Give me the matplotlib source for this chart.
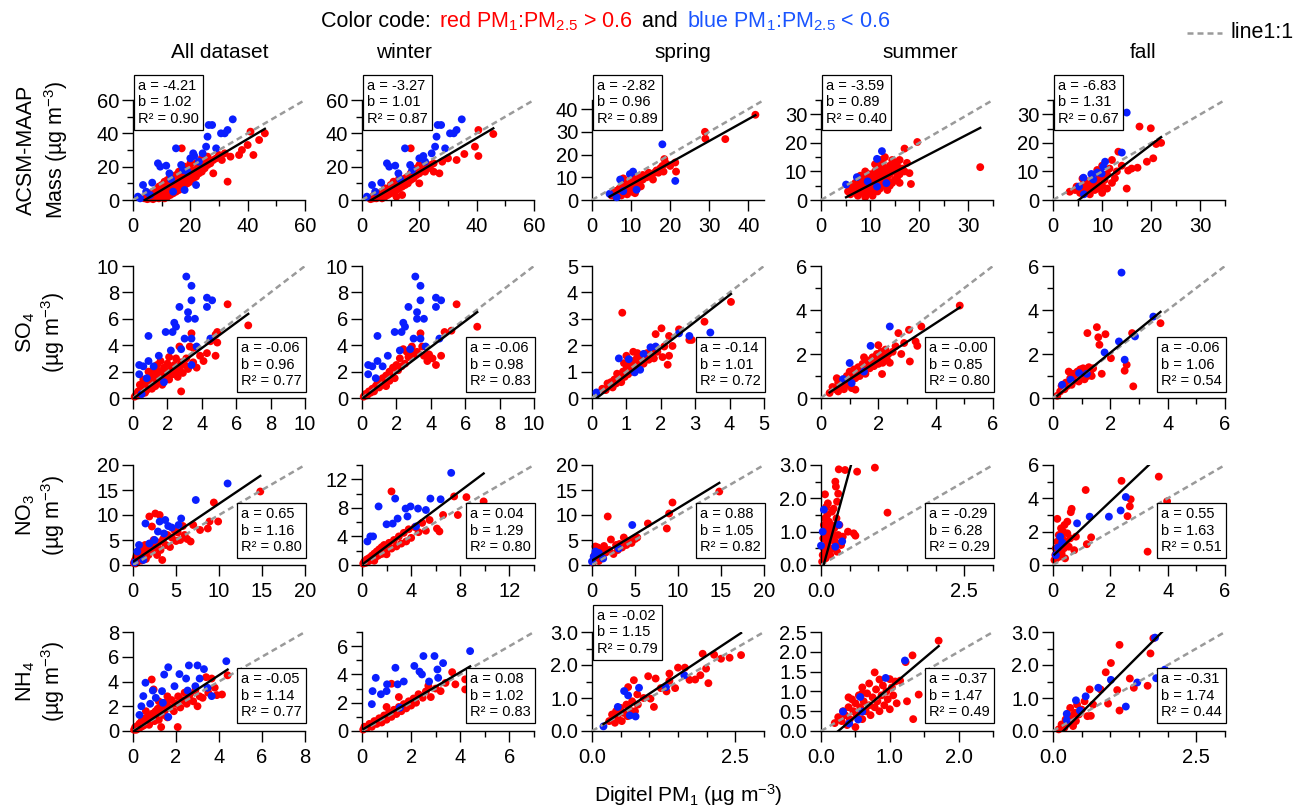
import matplotlib
matplotlib.use('Agg')
import matplotlib.pyplot as plt
import numpy as np

plt.rcParams['font.family'] = ['Liberation Sans', 'DejaVu Sans']
plt.rcParams['mathtext.fontset'] = 'custom'
plt.rcParams['mathtext.rm'] = 'Liberation Sans'
plt.rcParams['mathtext.it'] = 'Liberation Sans:italic'
plt.rcParams['mathtext.bf'] = 'Liberation Sans:bold'

# ---------------- data ----------------
seasons = ['All dataset', 'winter', 'spring', 'summer', 'fall']
species_line1 = ['ACSM-MAAP', 'SO$_4$', 'NO$_3$', 'NH$_4$']
species_line2 = ['Mass (µg m$^{-3}$)', '(µg m$^{-3}$)', '(µg m$^{-3}$)', '(µg m$^{-3}$)']

# fit parameters (a, b, R2) per row (species) and column (season)
fit_a = [[-4.21, -3.27, -2.82, -3.59, -6.83],
         [-0.06, -0.06, -0.14, -0.0, -0.06],
         [0.65, 0.04, 0.88, -0.29, 0.55],
         [-0.05, 0.08, -0.02, -0.37, -0.31]]
fit_b = [[1.02, 1.01, 0.96, 0.89, 1.31],
         [0.96, 0.98, 1.01, 0.85, 1.06],
         [1.16, 1.29, 1.05, 6.28, 1.63],
         [1.14, 1.02, 1.15, 1.47, 1.74]]
fit_r2 = [[0.90, 0.87, 0.89, 0.40, 0.67],
          [0.77, 0.83, 0.72, 0.80, 0.54],
          [0.80, 0.80, 0.82, 0.29, 0.51],
          [0.77, 0.83, 0.79, 0.49, 0.44]]

# axis limits per panel
axis_lim = [[60, 60, 44, 35, 35],
            [10, 10, 5, 6, 6],
            [20, 14, 20, 3, 6],
            [8, 7, 3, 2.5, 3]]

# ---- ACSM-MAAP mass ----
mass_all_red = [(4,1),(5,0.5),(5,3),(6,1),(6,4),(7,2),(7,5),(7,0.5),(8,1.5),(8,3.5),(8,6),(9,1),(9,3),(9,5),(9,8),(10,2),(10,4),(10,6),(10,9),(11,1),(11,3),(11,5),(11,7),(11,11),(12,2),(12,4),(12,6),(12,9),(12,12),(13,3),(13,5),(13,8),(13,11),(13,14),(14,4),(14,7),(14,10),(14,13),(15,5),(15,8),(15,11),(15,15),(16,6),(16,9),(16,12),(16,17),(17,7),(17,10),(17,14),(17,31),(18,9),(18,12),(18,16),(18,20),(19,10),(19,14),(19,18),(20,11),(20,15),(20,19),(20,22),(21,13),(21,17),(22,14),(22,18),(22,22),(23,16),(23,20),(24,17),(24,21),(24,25),(25,19),(25,23),(26,21),(26,26),(27,22),(28,16),(28,24),(29,25),(30,27),(31,24),(32,28),(33,11),(34,26),(37,27),(38,30),(40,33),(41,41),(42,27),(44,36),(46,40)]
mass_all_blue = [(1.7,2),(2.5,1),(3.5,9),(4.6,5),(6,3),(6.7,10.4),(8.7,22),(9.5,20),(11.6,20.6),(12.7,16),(13.3,12.4),(15,31),(16.8,21),(17.5,18),(19,17),(20,25),(21,28),(21.4,26.4),(22,9),(23,23),(24.3,28),(25.5,32),(26,38),(26.4,45),(27.6,45),(29,31),(30.7,40),(32,40),(33,42),(34.8,48.4),(18,6),(14,5)]
mass_winter_red = [(3,0.5),(4,1),(4,2.5),(5,1),(5,3),(6,2),(6,4),(7,1),(7,3),(7,5),(8,2),(8,5),(8,7),(9,3),(9,6),(10,4),(10,7),(10,9),(11,5),(11,8),(11,11),(12,6),(12,10),(13,7),(13,11),(13,13),(14,8),(14,12),(15,9),(15,13),(16,10),(16,14),(17,12),(17,16),(17,31),(18,13),(18,17),(19,15),(19,19),(20,16),(20,21),(21,18),(22,17),(22,20),(23,19),(24,21),(25,22),(25,17),(27,16),(28,23),(30,25),(33,24),(35.7,27.6),(39.4,32),(40.6,26.4),(40.6,42),(45.8,39.6),(14,3),(12,2),(20,10)]
mass_winter_blue = [(1.7,2),(3.5,9),(4.6,5),(6.7,10.4),(8.7,22),(9.5,20),(11.6,20.6),(12.7,16),(13.3,12.4),(15,31),(16.8,21),(20,25),(21.4,26.4),(24.3,28),(25.5,32),(26,38),(26.4,45),(27.6,45),(29,31),(30.7,40),(32,40),(33,42),(34.8,48.4),(17.5,18),(22,23)]
mass_spring_red = [(5,2),(5.5,3),(6,1.5),(6,4),(6.5,2.5),(7,3.5),(7,5),(7.5,2),(8,4),(8,6),(8.5,3),(9,5),(9,7),(9.5,4),(10,6),(10,8),(10.5,3.5),(11,7),(11,9),(11.5,5),(12,8),(12,10),(12.5,6),(13,9),(13,11),(13.5,10.2),(14,10),(14.5,12),(15,11),(15.6,9),(16,12),(16.5,13),(17,12),(17.5,14),(18,15),(18.3,12.5),(18.5,18),(19,16),(20,15),(21.3,16.5),(21.5,12.5),(28.9,30),(29,27),(34.1,26.8),(41.8,37.5),(9,2.5),(11,3),(8,9.5),(10,10.5)]
mass_spring_blue = [(4.5,2.7),(6.3,1.2),(7.2,9),(8,3.9),(9.7,11.4),(10.5,12.5),(11.4,4.5),(18,24.5),(21.3,8.4)]
mass_summer_red = [(5.5,3),(6,4),(6,2),(6.5,5),(7,3),(7,6),(7.5,4),(7.5,1.5),(8,5),(8,7),(8,2.5),(8.5,3.5),(8.5,6),(9,4),(9,8),(9,1),(9.5,5),(9.5,7),(9.5,2.5),(10,3),(10,6),(10,9),(10.5,4),(10.5,8),(10.5,1.5),(11,5),(11,7),(11,10),(11.5,3),(11.5,6),(11.5,9),(12,4),(12,7.5),(12,11),(12.5,5),(12.5,9),(12.5,13),(13,6),(13,8),(13,11),(13.5,3.5),(13.5,7),(13.5,10),(14,5),(14,9),(14,12),(14.5,6),(14.5,11),(14.5,14),(15,7),(15,10),(15,13),(15.5,8),(15.5,12),(16,6),(16,9),(16,14),(16.5,11),(17,10),(17,18),(17.5,13),(18,9.4),(18.3,5.6),(19.6,20.3),(32.4,11.5),(9,10),(8,8.5),(11,12.5),(12,14),(13,15)]
mass_summer_blue = [(5.1,5.4),(7.3,8),(11.4,14.4),(12.4,17.1),(11.4,4.7),(13.3,5.9),(9.5,6.5)]
mass_fall_red = [(3.4,2.9),(4.5,3.5),(4.8,4.7),(5.5,2.5),(6,5),(6.5,3),(7,4),(7,6.5),(7.5,2),(8,5),(8,7.5),(8.5,3.5),(9,6),(9,4),(9.5,8),(10,5),(10,2.5),(10.5,7),(11,9),(11,4),(11.5,11),(12,6),(12.6,7.6),(13,10),(13.3,16.9),(14,12),(15,4),(15.3,10.3),(16,11),(17.2,11.3),(17.6,25.7),(19.1,13.4),(19.9,25.1),(20.4,14.6),(21,19.6),(22,20),(6,7.5),(9,10.5),(12,14),(10,12)]
mass_fall_blue = [(5.3,4.7),(6.2,7.8),(6.3,2),(7.8,9.1),(8.2,7.2),(9,9.6),(9.9,9.3),(10.2,11.7),(10.6,13.4),(14,16.6),(15,30.6)]

# ---- SO4 ----
so4_all_red = [(0.1,0.1),(0.2,0.3),(0.3,0.2),(0.3,0.5),(0.4,0.4),(0.5,0.3),(0.5,0.7),(0.6,0.5),(0.7,0.9),(0.7,0.4),(0.8,0.6),(0.8,1.2),(0.9,0.8),(1.0,1.0),(1.0,1.5),(1.1,0.7),(1.1,1.8),(1.2,1.1),(1.2,2.2),(1.3,1.4),(1.3,0.9),(1.4,1.7),(1.4,2.5),(1.5,1.2),(1.5,2.0),(1.6,1.5),(1.6,2.8),(1.7,1.9),(1.7,1.0),(1.8,2.3),(1.8,1.4),(1.9,2.0),(2.0,1.7),(2.0,2.6),(2.1,1.4),(2.1,3.1),(2.2,2.2),(2.3,1.8),(2.4,2.5),(2.5,2.0),(2.5,3.0),(2.6,1.6),(2.7,2.3),(2.7,3.9),(2.8,2.7),(2.8,0.5),(2.9,1.9),(3.0,2.5),(3.1,3.0),(3.2,2.2),(3.3,3.9),(3.4,4.9),(3.5,3.8),(3.5,2.7),(3.7,2.3),(3.9,3.2),(4.1,2.8),(4.3,3.4),(4.5,4.3),(4.8,3.2),(4.8,4.8),(4.9,4.2),(4.9,5.0),(5.5,7.1),(6.7,5.5),(0.6,1.4),(0.9,2.0),(0.4,1.0)]
so4_all_blue = [(3.1,9.2),(3.4,8.5),(3.4,7.4),(3.2,6.5),(3.2,6.0),(3.6,6.0),(2.7,6.9),(4.3,6.9),(4.3,7.6),(4.6,7.4),(0.9,4.7),(1.9,5.0),(2.3,5.0),(2.5,5.4),(3.0,4.5),(3.4,4.5),(2.4,5.7),(0.36,2.5),(0.6,2.4),(0.36,1.8),(0.8,1.5),(0.9,2.8),(1.5,3.2),(2.2,3.6),(2.8,3.7),(3.4,2.5),(3.7,3.9),(4.5,4.5),(1.2,2.4),(0.5,0.3),(1.8,1.2)]
so4_winter_red = [(0.1,0.1),(0.2,0.3),(0.3,0.2),(0.4,0.5),(0.5,0.4),(0.6,0.7),(0.7,0.5),(0.8,0.9),(0.9,1.1),(1.0,0.8),(1.0,1.3),(1.1,1.0),(1.2,1.5),(1.3,1.2),(1.4,1.7),(1.4,0.9),(1.5,1.4),(1.6,2.0),(1.7,1.6),(1.8,2.3),(1.9,1.5),(2.0,2.5),(2.1,2.1),(2.2,3.0),(2.3,2.4),(2.5,2.6),(2.6,3.5),(2.7,3.1),(2.9,3.9),(3.0,3.3),(3.2,3.5),(3.4,4.9),(3.5,3.9),(3.6,3.2),(3.8,2.8),(3.9,3.3),(4.1,3.0),(4.3,2.5),(4.6,3.2),(4.8,5.0),(5.2,5.1),(5.5,7.1),(6.7,5.4),(1.1,1.3),(2.4,3.7),(1.6,1.3)]
so4_winter_blue = [(3.1,9.2),(3.4,8.5),(3.4,7.4),(3.2,6.5),(3.2,6.0),(3.6,6.0),(2.7,6.9),(4.3,6.9),(4.3,7.6),(4.6,7.4),(0.9,4.7),(1.9,5.0),(2.3,5.0),(2.5,5.4),(3.0,4.5),(3.4,4.5),(2.4,5.7),(0.36,2.5),(0.6,2.4),(0.36,1.8),(0.8,1.5),(0.9,2.8),(1.5,3.2),(2.2,3.6),(2.8,3.7),(3.7,3.9),(4.5,4.5),(1.2,2.4)]
so4_spring_red = [(0.3,0.35),(0.4,0.3),(0.45,0.55),(0.5,0.45),(0.55,0.6),(0.6,0.4),(0.65,0.7),(0.7,0.55),(0.73,0.92),(0.8,0.75),(0.85,0.6),(0.88,3.23),(0.9,1.0),(0.93,1.32),(0.95,0.8),(1.0,1.1),(1.05,0.9),(1.1,1.25),(1.15,1.0),(1.2,1.4),(1.25,1.15),(1.3,1.5),(1.32,1.7),(1.35,1.25),(1.4,1.4),(1.45,1.6),(1.5,1.3),(1.55,1.55),(1.6,1.7),(1.65,1.45),(1.7,1.6),(1.75,1.8),(1.8,1.5),(1.85,2.42),(1.9,1.75),(2.02,2.64),(2.05,1.55),(2.1,1.95),(2.2,1.26),(2.24,1.6),(2.24,2.35),(2.34,1.97),(2.53,2.6),(2.83,2.2),(2.9,2.2),(3.27,2.89),(4.04,3.64),(1.2,1.75),(1.0,1.6)]
so4_spring_blue = [(0.13,0.21),(0.78,1.5),(1.07,1.47),(1.24,0.97),(1.4,1.07),(1.5,1.67),(1.7,1.92),(1.85,1.95),(2.53,2.45),(2.83,2.35),(3.44,2.48)]
so4_summer_red = [(0.3,0.23),(0.4,0.5),(0.5,0.4),(0.6,0.7),(0.6,0.3),(0.7,0.55),(0.8,0.8),(0.8,0.4),(0.9,1.0),(0.9,0.6),(1.0,0.8),(1.0,1.2),(1.07,0.45),(1.1,1.0),(1.15,1.3),(1.2,0.38),(1.2,0.9),(1.25,1.15),(1.3,1.4),(1.35,1.0),(1.4,1.2),(1.45,1.55),(1.5,1.3),(1.55,1.1),(1.6,1.5),(1.65,1.7),(1.7,1.35),(1.75,1.6),(1.8,1.85),(1.85,1.45),(1.9,1.7),(1.95,2.0),(2.0,1.55),(2.05,1.8),(2.1,2.1),(2.13,1.09),(2.15,1.6),(2.2,1.9),(2.25,2.2),(2.3,1.75),(2.35,2.0),(2.4,1.6),(2.5,2.1),(2.6,2.35),(2.7,2.95),(2.8,2.0),(2.9,2.5),(3.07,3.1),(3.1,1.66),(3.3,2.57),(3.36,2.37),(3.5,3.25),(4.84,4.2),(0.55,0.9),(1.5,1.85),(2.0,2.4)]
so4_summer_blue = [(0.77,0.86),(1.0,1.59),(1.07,0.68),(1.5,1.2),(1.73,2.37),(2.4,3.25)]
so4_fall_red = [(0.15,0.1),(0.25,0.3),(0.3,0.55),(0.4,0.4),(0.45,0.7),(0.5,0.55),(0.6,0.9),(0.65,0.6),(0.7,1.1),(0.75,0.8),(0.8,1.0),(0.85,1.2),(0.9,0.75),(0.95,1.3),(1.0,1.05),(1.05,1.35),(1.1,0.85),(1.15,1.3),(1.2,1.0),(1.2,2.95),(1.25,1.4),(1.3,1.2),(1.35,1.0),(1.4,1.35),(1.53,3.22),(1.58,2.76),(1.62,2.42),(1.83,2.9),(2.02,1.81),(2.5,1.24),(2.57,1.51),(2.76,2.95),(2.8,0.53),(3.75,3.4),(0.55,1.2),(1.7,1.1)]
so4_fall_blue = [(0.32,0.6),(0.62,0.83),(0.91,1.13),(1.18,1.1),(1.8,2.07),(2.3,2.57),(2.39,5.7),(2.5,1.74),(2.86,2.8),(3.5,3.7)]

# ---- NO3 ----
no3_all_red = [(0.1,0.4),(0.2,0.8),(0.3,1.2),(0.3,0.3),(0.4,1.8),(0.5,0.6),(0.5,2.5),(0.6,1.0),(0.7,3.0),(0.8,1.5),(0.9,2.2),(1.0,0.9),(1.0,3.5),(1.2,1.6),(1.3,2.6),(1.4,4.0),(1.5,1.2),(1.6,3.0),(1.8,2.0),(1.9,9.7),(2.0,4.2),(2.2,7.7),(2.2,2.8),(2.4,5.0),(2.6,10.3),(2.6,3.5),(2.8,2.0),(3.0,4.5),(3.1,10.0),(3.2,3.0),(3.4,1.0),(3.5,5.2),(3.8,4.0),(4.0,6.0),(4.3,3.6),(4.5,5.5),(4.8,7.0),(5.0,4.8),(5.2,6.5),(5.5,5.0),(5.8,7.8),(6.0,6.0),(6.3,5.2),(6.7,4.7),(7.0,8.0),(7.8,7.0),(8.7,7.3),(8.9,8.7),(9.4,12.5),(9.9,8.7),(14.8,14.7),(1.1,2.0),(0.7,1.8),(0.4,0.9)]
no3_all_blue = [(0.5,2.7),(0.7,4.0),(1.2,1.0),(1.45,8.3),(1.9,4.3),(2.9,6.7),(3.1,8.7),(3.6,6.3),(3.75,9.0),(4.1,7.8),(4.5,7.5),(5.3,8.0),(5.6,9.3),(7.3,13.0),(11.0,16.3),(2.5,5.0),(0.2,0.5)]
no3_winter_red = [(0.1,0.2),(0.2,0.5),(0.3,0.3),(0.4,0.8),(0.5,0.5),(0.6,1.0),(0.7,0.7),(0.8,1.3),(0.9,0.9),(1.0,1.6),(1.1,1.1),(1.2,1.9),(1.3,1.3),(1.4,2.2),(1.5,1.5),(1.6,2.5),(1.7,1.6),(1.8,2.8),(2.0,2.0),(2.2,3.1),(2.4,10.3),(2.4,2.3),(2.6,3.5),(2.8,2.6),(3.0,4.0),(3.2,3.0),(3.4,4.5),(3.6,3.3),(3.8,5.0),(4.0,3.8),(4.3,5.3),(4.6,4.6),(4.9,5.9),(5.2,4.8),(5.5,6.3),(6.1,5.1),(6.3,4.7),(6.6,7.0),(7.5,9.6),(7.8,7.0),(8.5,9.5),(9.9,8.9),(1.0,0.6),(2.0,1.5)]
no3_winter_blue = [(0.44,3.3),(0.68,4.0),(0.9,4.0),(1.35,8.2),(2.0,5.7),(2.5,5.8),(2.7,9.3),(2.9,6.5),(3.55,7.9),(3.7,6.8),(3.95,8.2),(4.4,5.4),(4.56,7.9),(5.2,7.7),(5.57,9.3),(6.4,9.2),(7.26,12.9)]
no3_spring_red = [(0.1,0.5),(0.2,1.0),(0.3,2.0),(0.4,3.7),(0.5,1.5),(0.6,3.0),(0.8,0.8),(1.0,2.2),(1.2,1.5),(1.4,3.8),(1.6,2.5),(1.83,9.7),(2.0,3.0),(2.2,5.1),(2.5,2.2),(2.8,4.0),(3.0,3.0),(3.2,4.2),(3.5,3.5),(3.7,5.5),(4.0,4.0),(4.3,4.8),(4.6,4.4),(5.0,5.2),(5.26,5.5),(6.5,8.3),(8.7,7.3),(8.97,10.3),(9.36,12.5),(14.8,14.7),(0.7,3.5),(1.1,3.2)]
no3_spring_blue = [(0.0,0.7),(0.2,1.7),(0.4,2.7),(1.3,1.3),(3.1,3.3),(4.68,8.0),(0.8,2.4)]
no3_summer_red = [(0.02,0.1),(0.03,0.3),(0.05,0.5),(0.04,0.8),(0.06,1.0),(0.05,1.2),(0.07,1.4),(0.08,0.2),(0.09,0.6),(0.1,0.9),(0.1,1.1),(0.11,1.5),(0.12,0.4),(0.13,0.7),(0.14,1.3),(0.15,1.0),(0.16,0.3),(0.17,0.8),(0.18,1.2),(0.19,1.6),(0.2,0.5),(0.21,0.9),(0.22,1.69),(0.23,1.1),(0.25,2.5),(0.25,0.7),(0.27,1.4),(0.28,0.4),(0.3,2.14),(0.3,0.9),(0.31,2.87),(0.32,1.2),(0.35,0.6),(0.38,0.85),(0.42,2.85),(0.47,1.0),(0.57,0.95),(0.6,0.88),(0.63,2.8),(0.94,2.92),(1.16,1.57),(0.07,2.12),(0.09,1.74),(0.26,2.35),(0.28,1.9),(0.12,1.85)]
no3_summer_blue = [(0.0,0.58),(0.05,1.66),(0.25,0.55),(0.31,1.21),(0.37,0.71),(0.03,1.0)]
no3_fall_red = [(0.05,0.3),(0.08,0.6),(0.1,1.0),(0.12,0.4),(0.15,2.77),(0.15,1.4),(0.18,0.8),(0.2,1.8),(0.22,0.5),(0.25,1.2),(0.28,2.2),(0.3,0.7),(0.32,1.6),(0.35,2.0),(0.38,1.0),(0.4,2.4),(0.42,0.4),(0.45,1.4),(0.5,1.9),(0.55,1.1),(0.6,1.6),(0.62,3.17),(0.65,3.37),(0.74,0.89),(0.8,1.7),(1.14,4.5),(1.18,1.25),(1.33,1.66),(2.39,5.05),(2.6,2.93),(2.68,3.52),(2.71,3.94),(3.3,0.8),(3.69,5.3),(3.98,3.82),(0.3,1.3),(0.5,2.6)]
no3_fall_blue = [(0.1,0.59),(0.18,1.05),(0.25,1.7),(0.32,1.35),(0.84,2.5),(1.28,2.9),(1.95,2.9),(2.36,3.27),(2.54,4.08)]

# ---- NH4 ----
nh4_all_red = [(0.05,0.1),(0.1,0.3),(0.15,0.1),(0.2,0.4),(0.25,0.2),(0.3,0.6),(0.35,0.3),(0.4,0.8),(0.45,0.4),(0.5,1.0),(0.55,0.5),(0.6,0.9),(0.65,0.7),(0.7,1.2),(0.75,0.5),(0.8,1.0),(0.87,4.16),(0.9,1.4),(0.96,3.36),(1.0,0.8),(1.05,1.6),(1.1,1.2),(1.15,1.8),(1.2,0.9),(1.25,1.5),(1.31,0.32),(1.35,2.0),(1.4,1.3),(1.5,1.7),(1.55,2.3),(1.6,1.1),(1.7,1.9),(1.8,2.5),(1.9,1.6),(2.0,2.2),(2.08,0.32),(2.1,2.8),(2.2,1.9),(2.3,2.5),(2.4,3.1),(2.5,2.2),(2.6,2.7),(2.66,3.0),(2.8,2.4),(2.9,3.3),(3.0,2.0),(3.1,2.8),(3.24,2.68),(3.4,4.35),(3.5,3.1),(3.66,4.24),(3.8,3.5),(3.9,2.9),(4.14,2.95),(4.4,4.5),(1.2,2.4),(0.6,1.6),(1.6,2.8)]
nh4_all_blue = [(0.39,2.0),(0.48,2.82),(0.58,3.9),(0.92,3.27),(1.06,2.68),(1.35,3.22),(1.39,2.28),(1.45,4.56),(1.64,5.15),(1.64,1.13),(1.93,3.62),(2.16,4.6),(2.47,4.24),(2.54,3.27),(2.6,5.3),(2.9,3.62),(3.0,5.3),(3.1,4.24),(3.3,5.0),(3.47,3.49),(3.66,2.82),(4.34,5.64),(0.3,1.3),(0.8,2.2)]
nh4_winter_red = [(0.05,0.1),(0.1,0.3),(0.2,0.2),(0.3,0.5),(0.4,0.3),(0.5,0.7),(0.6,0.5),(0.7,0.9),(0.8,0.6),(0.9,1.1),(1.0,0.8),(1.1,1.3),(1.2,3.34),(1.2,1.0),(1.3,1.5),(1.4,1.2),(1.5,1.7),(1.6,1.4),(1.7,1.9),(1.8,1.6),(1.9,2.1),(2.0,1.8),(2.1,2.3),(2.2,2.0),(2.3,2.6),(2.47,2.35),(2.6,2.8),(2.8,2.4),(3.0,3.0),(3.2,2.82),(3.4,3.4),(3.67,4.16),(3.8,3.3),(4.2,3.65),(4.2,2.94),(1.5,2.4),(1.0,1.7),(2.7,3.2)]
nh4_winter_blue = [(0.4,1.9),(0.43,2.82),(0.56,3.76),(0.77,2.6),(1.0,2.82),(1.02,3.3),(1.36,4.47),(1.45,3.3),(1.54,1.65),(1.7,3.5),(2.13,4.6),(2.34,4.2),(2.44,4.0),(2.5,5.3),(2.73,3.5),(2.95,5.3),(3.07,4.35),(3.1,3.76),(3.3,4.8),(4.4,5.65)]
nh4_spring_red = [(0.3,0.3),(0.35,0.5),(0.4,0.25),(0.42,0.6),(0.45,0.4),(0.5,0.7),(0.52,0.3),(0.55,0.55),(0.6,0.8),(0.62,0.45),(0.63,1.33),(0.65,0.65),(0.7,0.9),(0.73,1.54),(0.75,0.6),(0.79,1.11),(0.8,0.8),(0.9,1.0),(0.98,1.66),(1.02,0.98),(1.08,0.73),(1.11,1.59),(1.2,1.3),(1.3,1.2),(1.35,1.52),(1.35,1.74),(1.45,1.3),(1.5,1.92),(1.62,1.92),(1.7,1.55),(1.8,1.56),(1.89,1.69),(1.93,2.34),(1.99,1.89),(2.03,1.45),(2.13,2.31),(2.25,2.19),(2.4,2.22),(2.6,2.3)]
nh4_spring_blue = [(0.2,0.14),(0.45,0.73),(0.56,1.21),(0.63,1.08),(0.66,0.47),(0.76,0.44),(0.82,1.31),(1.29,1.33),(1.61,1.69)]
nh4_summer_red = [(0.2,0.2),(0.25,0.35),(0.3,0.25),(0.32,0.5),(0.35,0.4),(0.38,0.15),(0.4,0.6),(0.42,0.3),(0.45,0.8),(0.47,0.5),(0.5,0.7),(0.5,0.1),(0.52,0.4),(0.55,0.9),(0.57,0.6),(0.6,0.3),(0.6,1.1),(0.62,0.75),(0.65,0.5),(0.67,0.95),(0.7,0.65),(0.7,1.2),(0.72,0.4),(0.75,0.85),(0.78,1.48),(0.78,0.6),(0.8,1.05),(0.82,0.75),(0.85,1.3),(0.85,0.5),(0.88,0.9),(0.9,1.15),(0.92,0.65),(0.95,1.0),(0.97,0.8),(1.0,1.31),(1.0,0.55),(1.03,1.1),(1.05,0.9),(1.08,1.25),(1.1,0.7),(1.15,1.27),(1.23,1.74),(1.25,0.75),(1.33,1.91),(1.34,0.3),(1.42,0.92),(1.71,2.28),(0.4,0.85),(0.6,0.95)]
nh4_summer_blue = [(0.32,0.49),(0.41,0.19),(0.54,0.29),(0.57,0.86),(0.6,0.49),(0.94,1.34),(1.22,1.78)]
nh4_fall_red = [(0.1,0.05),(0.15,0.2),(0.2,0.1),(0.22,0.35),(0.25,0.5),(0.28,0.25),(0.3,0.7),(0.33,0.4),(0.35,0.15),(0.38,0.55),(0.4,0.3),(0.42,0.8),(0.45,0.5),(0.5,0.65),(0.55,0.9),(0.6,0.45),(0.64,1.26),(0.66,0.46),(0.7,0.8),(0.83,1.26),(0.92,1.78),(0.96,0.83),(1.01,2.06),(1.12,1.24),(1.16,2.61),(1.16,0.62),(1.34,1.59),(1.41,1.31),(1.65,1.37),(1.7,2.35),(1.75,2.81),(1.92,0.41),(2.17,1.68)]
nh4_fall_blue = [(0.24,0.33),(0.24,0.52),(0.4,0.93),(0.47,0.62),(0.57,1.05),(0.79,1.31),(1.01,1.55),(1.27,0.74),(1.47,1.47),(1.8,1.6),(1.78,2.83),(1.95,1.86)]

red_sets = [[mass_all_red, mass_winter_red, mass_spring_red, mass_summer_red, mass_fall_red],
            [so4_all_red, so4_winter_red, so4_spring_red, so4_summer_red, so4_fall_red],
            [no3_all_red, no3_winter_red, no3_spring_red, no3_summer_red, no3_fall_red],
            [nh4_all_red, nh4_winter_red, nh4_spring_red, nh4_summer_red, nh4_fall_red]]
blue_sets = [[mass_all_blue, mass_winter_blue, mass_spring_blue, mass_summer_blue, mass_fall_blue],
             [so4_all_blue, so4_winter_blue, so4_spring_blue, so4_summer_blue, so4_fall_blue],
             [no3_all_blue, no3_winter_blue, no3_spring_blue, no3_summer_blue, no3_fall_blue],
             [nh4_all_blue, nh4_winter_blue, nh4_spring_blue, nh4_summer_blue, nh4_fall_blue]]

# ---------------- layout / style ----------------
W, H = 1303, 809
RED = '#ff0000'
BLUE = '#0a1eff'
TITLE_BLUE = '#1a55ff'
GRAY = '#9a9a9a'

col_left = [133, 362, 592, 821, 1053]
col_w = 172
row_top = [100, 266, 465, 632]
row_bot = [200, 398, 565, 731]
col_title_x = [220, 404, 683, 920, 1143]
ylab_y = [150, 332, 515, 681]

# tick spec: (x major step or list, x minor step, y major step, y minor step, fmt)
tick_spec = [
    [(20, 10, 20, 10, '%d'), (20, 10, 20, 10, '%d'), (10, None, 10, None, '%d'),
     (10, 5, 10, 5, '%d'), (10, 5, 10, 5, '%d')],
    [(2, None, 2, None, '%d'), (2, None, 2, None, '%d'), (1, None, 1, None, '%d'),
     (2, 1, 2, 1, '%d'), (2, 1, 2, 1, '%d')],
    [(5, None, 5, None, '%d'), (4, 2, 4, 2, '%d'), (5, None, 5, None, '%d'),
     ([0, 2.5], 0.5, 1, 0.5, '%.1f'), (2, 1, 2, 1, '%d')],
    [(2, None, 2, None, '%d'), (2, 1, 2, 1, '%d'), ([0, 2.5], 0.5, 1, 0.5, '%.1f'),
     (1, 0.5, 0.5, None, '%.1f'), ([0, 2.5], 0.5, 1, 0.5, '%.1f')],
]

TICK_FS = 14.5
TITLE_FS = 15
YLAB_FS = 15.5
BOX_FS = 10.5


def steps(lim, step):
    return np.arange(0, lim + 1e-9, step)


def fig_xy(px, py):
    return px / W, 1 - py / H


fig = plt.figure(figsize=(W / 100, H / 100), dpi=100)

for r in range(4):
    for c in range(5):
        l = col_left[c]
        ax = fig.add_axes([l / W, 1 - row_bot[r] / H, col_w / W, (row_bot[r] - row_top[r]) / H])
        lim = axis_lim[r][c]
        ax.set_xlim(0, lim)
        ax.set_ylim(0, lim)
        for s in ['top', 'right']:
            ax.spines[s].set_visible(False)
        for s in ['left', 'bottom']:
            ax.spines[s].set_linewidth(1.0)
        xmaj, xmin, ymaj, ymin, fmt = tick_spec[r][c]
        xt = xmaj if isinstance(xmaj, list) else steps(lim, xmaj)
        ax.set_xticks(xt)
        ax.set_xticklabels([fmt % v for v in xt])
        if xmin:
            ax.set_xticks([v for v in steps(lim, xmin) if min(abs(v - t) for t in xt) > 1e-6], minor=True)
        yt = steps(lim, ymaj)
        ax.set_yticks(yt)
        ax.set_yticklabels([fmt % v for v in yt])
        if ymin:
            ax.set_yticks([v for v in steps(lim, ymin) if min(abs(v - t) for t in yt) > 1e-6], minor=True)
        ax.tick_params(which='major', direction='out', length=8, width=1.0,
                       labelsize=TICK_FS, pad=2)
        ax.tick_params(which='minor', direction='out', length=4.5, width=1.0)
        ax.tick_params(axis='x', which='major', pad=4)
        ax.patch.set_visible(False)

        red = np.array(red_sets[r][c])
        blue = np.array(blue_sets[r][c])
        ax.scatter(red[:, 0], red[:, 1], s=32, color=RED, edgecolors='none', zorder=2, clip_on=False)
        ax.scatter(blue[:, 0], blue[:, 1], s=32, color=BLUE, edgecolors='none', zorder=3, clip_on=False)

        # 1:1 line
        ax.plot([0, lim], [0, lim], color=GRAY, lw=1.8, ls=(0, (2.4, 1.6)), zorder=4,
                dash_capstyle='butt')
        # fit line over data x-range
        allx = np.concatenate([red[:, 0], blue[:, 0]])
        a, b = fit_a[r][c], fit_b[r][c]
        x0, x1 = allx.min(), allx.max()
        ax.plot([x0, x1], [a + b * x0, a + b * x1], color='black', lw=1.7, zorder=5)

        # annotation box
        txt = 'a = %.2f\nb = %.2f\nR² = %.2f' % (a, b, fit_r2[r][c])
        pad_px = 4.0
        bb = dict(boxstyle='square,pad=0.28', fc='white', ec='black', lw=0.9)
        right = l + col_w
        if r == 0 or (r == 3 and c == 2):
            top = 75 if r == 0 else 605
            fig.text(*fig_xy(l + 1 + pad_px, top + pad_px), txt, ha='left', va='top',
                     fontsize=BOX_FS, bbox=bb, linespacing=1.22, zorder=10)
        else:
            bottom = {1: 392, 2: 558, 3: 723}[r]
            fig.text(*fig_xy(right + 1 - pad_px, bottom - pad_px), txt, ha='right', va='bottom',
                     fontsize=BOX_FS, bbox=bb, linespacing=1.22, zorder=10, multialignment='left')

        if r == 0:
            fig.text(*fig_xy(col_title_x[c], 52), seasons[c], ha='center', va='center',
                     fontsize=TITLE_FS)
    # y labels
    fig.text(*fig_xy(26, ylab_y[r]), species_line1[r], rotation=90, ha='center', va='center',
             fontsize=YLAB_FS)
    fig.text(*fig_xy(56 if r == 0 else 53, ylab_y[r]), species_line2[r], rotation=90,
             ha='center', va='center', fontsize=YLAB_FS)

# x label
fig.text(*fig_xy(688, 795), 'Digitel PM$_1$ (µg m$^{-3}$)', ha='center', va='center',
         fontsize=TITLE_FS)

# colour-code title
parts = [('Color code: ', 'black'), ('red PM$_1$:PM$_{2.5}$ > 0.6', RED), (' and ', 'black'),
         ('blue PM$_1$:PM$_{2.5}$ < 0.6', TITLE_BLUE)]
fig.canvas.draw()
renderer = fig.canvas.get_renderer()
texts = []
widths = []
for s, col in parts:
    t = fig.text(0, 0, s, color=col, fontsize=15.5, ha='left', va='baseline')
    widths.append(t.get_window_extent(renderer).width)
    texts.append(t)
gap = [2, 3, 3, 0]
total = sum(widths) + sum(gap[:-1])
x = 606 - total / 2
for t, w, g in zip(texts, widths, gap):
    t.set_position(fig_xy(x, 27))
    x += w + g

# legend
fig.add_artist(plt.Line2D([1187 / W, 1222 / W], [1 - 33 / H, 1 - 33 / H], color=GRAY, lw=1.8,
                          ls=(0, (2.4, 1.6))))
fig.text(*fig_xy(1230, 33), 'line1:1', ha='left', va='center', fontsize=15.5)

fig.savefig('out.png', dpi=100)
